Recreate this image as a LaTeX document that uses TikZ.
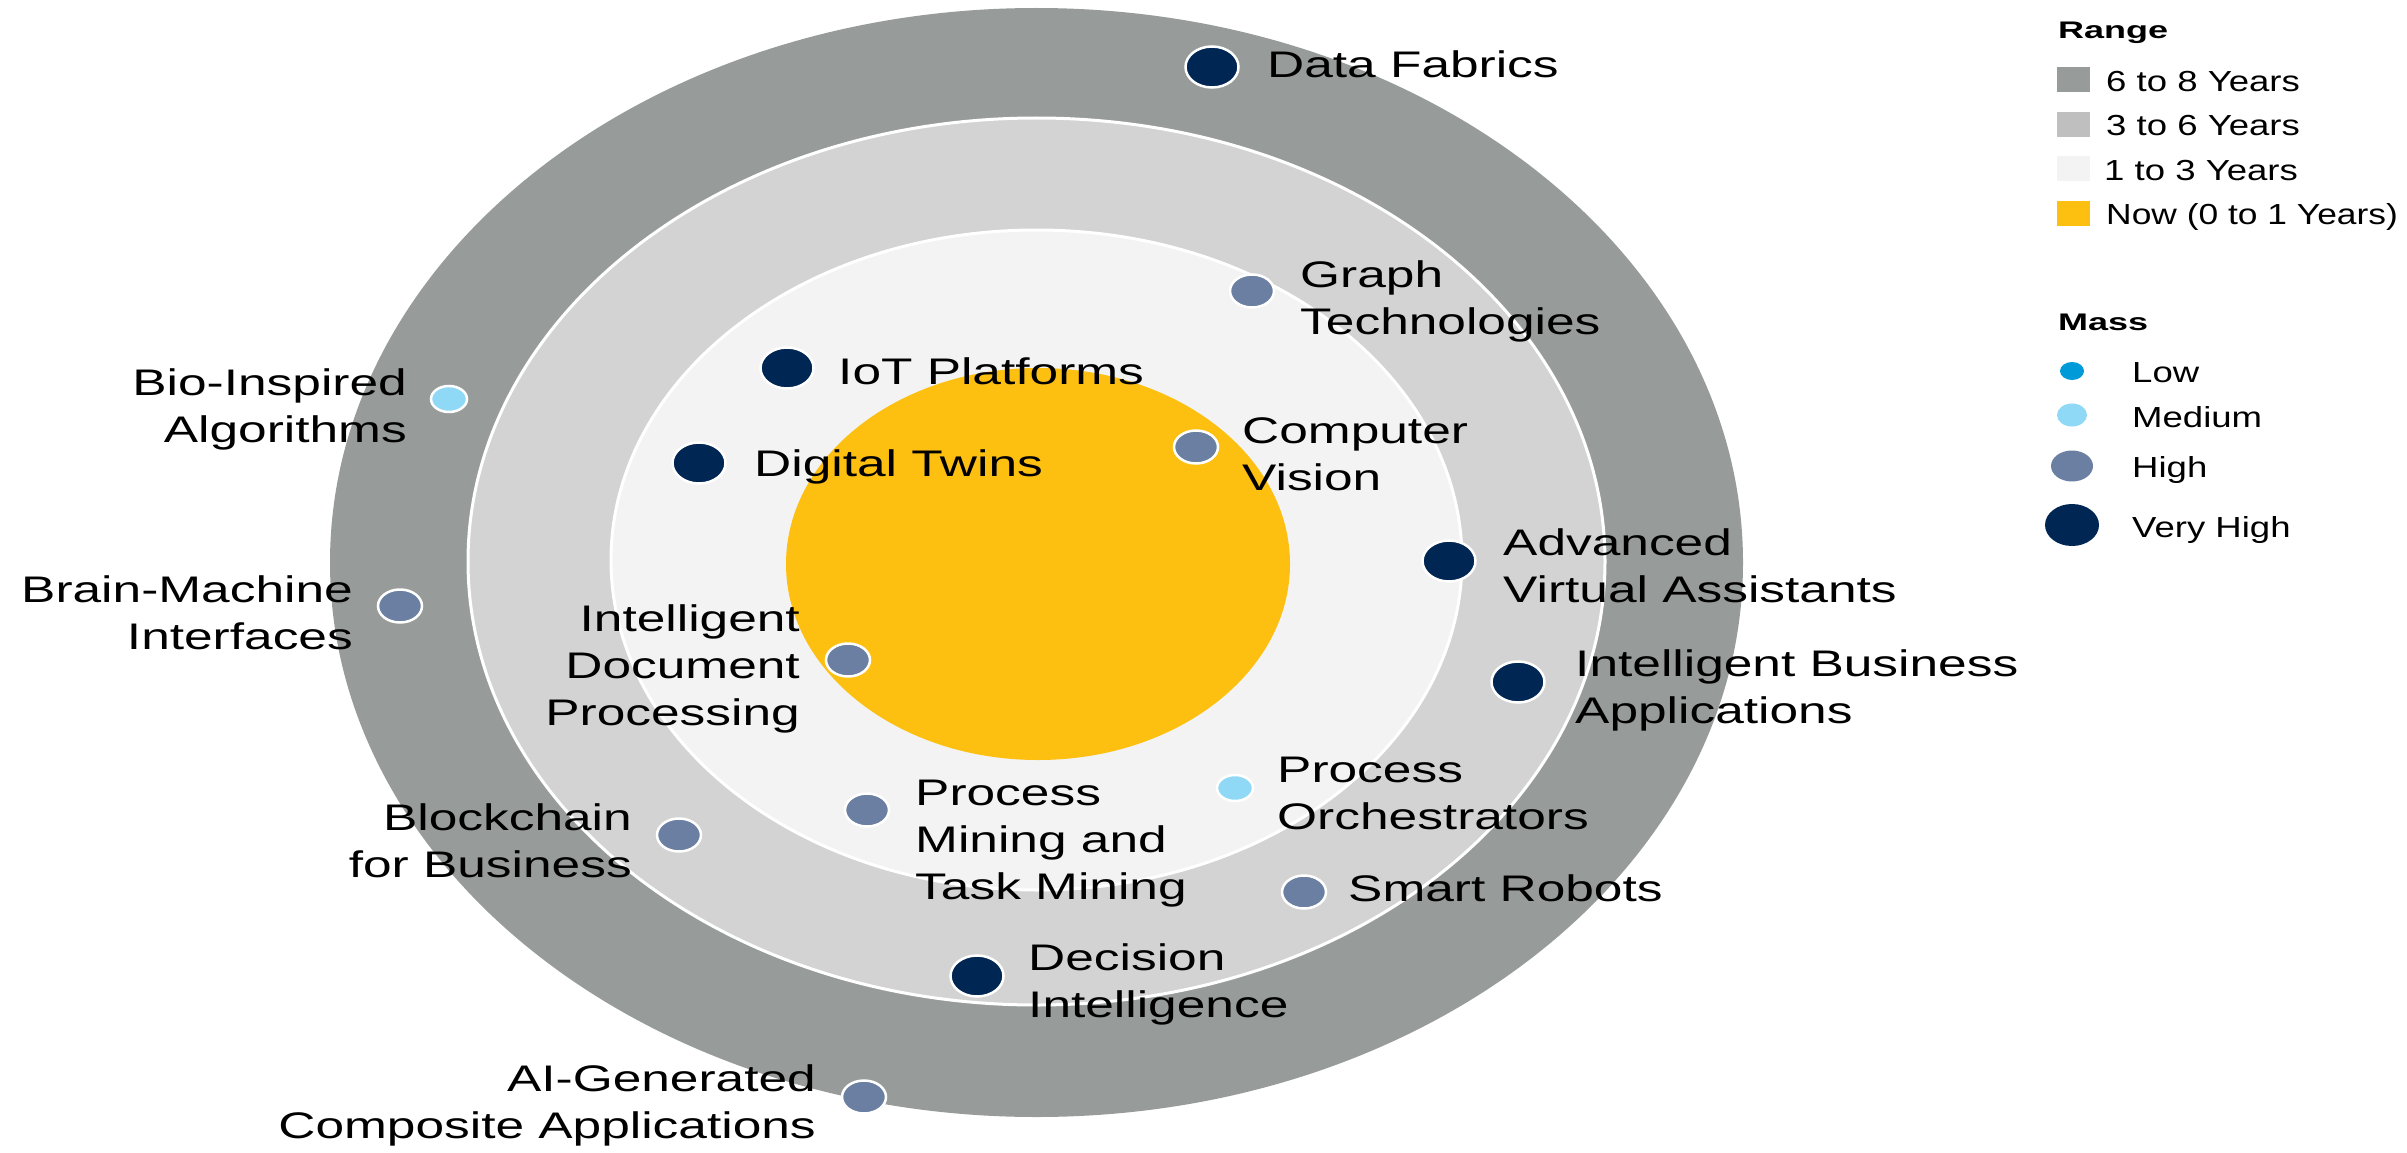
\documentclass[tikz,border=0pt]{standalone}
\usepackage{fontspec}
\setmainfont{Liberation Sans}
\newfontfamily\labfont{Liberation Sans}[FakeStretch=1.39]
\newfontfamily\legfont{Liberation Sans}[FakeStretch=1.26]
\newfontfamily\legfontn{Liberation Sans}[FakeStretch=1.22]
\newfontfamily\legtitlefont{Liberation Sans}[FakeStretch=1.5]
\usetikzlibrary{shapes.geometric}
\definecolor{ringA}{HTML}{979C9B}
\definecolor{ringB}{HTML}{D3D3D3}
\definecolor{ringC}{HTML}{F3F3F3}
\definecolor{ringD}{HTML}{FDBF10}
\definecolor{legB}{HTML}{BFBFBF}
\definecolor{cVH}{HTML}{002654}
\definecolor{cHi}{HTML}{6A7FA2}
\definecolor{cMed}{HTML}{8FD9F7}
\definecolor{cLow}{HTML}{009AD9}
\tikzset{
  massdot/.style={ellipse, inner sep=0pt, draw=white, line width=2.5pt},
  vh/.style={massdot, fill=cVH, minimum width=53pt, minimum height=41pt},
  hi/.style={massdot, fill=cHi, minimum width=44pt, minimum height=33pt},
  med/.style={massdot, fill=cMed, minimum width=36pt, minimum height=26pt},
  lab/.style={font=\labfont\fontsize{37}{47}\selectfont, inner sep=0pt, text=black},
  labL/.style={lab, align=left, anchor=base west},
  labR/.style={lab, align=right, anchor=base east},
  legtitle/.style={font=\legtitlefont\bfseries\fontsize{24}{28}\selectfont, inner sep=0pt, anchor=base west},
  legtext/.style={font=\legfont\fontsize{29}{34}\selectfont, inner sep=0pt, anchor=base west},
  legsq/.style={rectangle, inner sep=0pt, minimum width=33pt, minimum height=25pt},
  legdot/.style={ellipse, inner sep=0pt}
}
\begin{document}
\begin{tikzpicture}[x=1pt, y=-1pt]
\useasboundingbox (0,0) rectangle (2407,1153);
% rings
\fill[ringA] (1036.5,562.5) ellipse [x radius=706.5pt, y radius=554.5pt];
\filldraw[fill=ringB, draw=white, line width=3pt] (1036.5,561.5) ellipse [x radius=568.5pt, y radius=443.5pt];
\filldraw[fill=ringC, draw=white, line width=3pt] (1036.5,560) ellipse [x radius=425.5pt, y radius=330pt];
\fill[ringD] (1038,564) ellipse [x radius=252pt, y radius=196pt];
% dots
\node[vh]  (dfab)  at (1212,67)  {};
\node[hi]  (dgraph) at (1252,291) {};
\node[vh]  (diot)  at (787,368)  {};
\node[med] (dbio)  at (449,399)  {};
\node[hi]  (dcv)   at (1196,447) {};
\node[vh]  (ddt)   at (699,463)  {};
\node[vh]  (dava)  at (1449,561) {};
\node[hi]  (dbmi)  at (400,606)  {};
\node[hi]  (didp)  at (848,660)  {};
\node[vh]  (diba)  at (1518,682) {};
\node[med] (dpo)   at (1235,788) {};
\node[hi]  (dpm)   at (867,810)  {};
\node[hi]  (dbc)   at (679,835)  {};
\node[hi]  (dsr)   at (1304,892) {};
\node[vh]  (ddi)   at (977,976)  {};
\node[hi]  (dai)   at (864,1097) {};
% labels (base anchor = baseline of the last line)
\node[labL] (tfab)  at (1267,78)   {Data Fabrics};
\node[labL] (tgraph) at (1300,334) {Graph\\Technologies};
\node[labL] (tiot)  at (838,384)   {IoT Platforms};
\node[labR] (tbio)  at (407,442)   {Bio-Inspired\\Algorithms};
\node[labL] (tcv)   at (1242,490)  {Computer\\Vision};
\node[labL] (tdt)   at (754,476)   {Digital Twins};
\node[labL] (tava)  at (1503,602)  {Advanced\\Virtual Assistants};
\node[labR] (tbmi)  at (353,649)   {Brain-Machine\\Interfaces};
\node[labR] (tidp)  at (800,725)   {Intelligent\\Document\\Processing};
\node[labL] (tiba)  at (1575,723)  {Intelligent Business\\Applications};
\node[labL] (tpo)   at (1277,829)  {Process\\Orchestrators};
\node[labL] (tpm)   at (915,899)   {Process\\Mining and\\Task Mining};
\node[labR] (tbc)   at (632,877)   {Blockchain\\for Business};
\node[labL] (tsr)   at (1348,901)  {Smart Robots};
\node[labL] (tdi)   at (1028,1017) {Decision\\Intelligence};
\node[labR] (tai)   at (816,1138)  {AI-Generated\\Composite Applications};
% legend: range
\node[legtitle] (lrange) at (2058,39) {Range};
\node[legsq, fill=ringA] (sq1) at (2073.5,79.5)  {};
\node[legsq, fill=legB]  (sq2) at (2073.5,124.5) {};
\node[legsq, fill=ringC] (sq3) at (2073.5,168.5) {};
\node[legsq, fill=ringD] (sq4) at (2073.5,213.5) {};
\node[legtext] (lt1) at (2106,92)  {6 to 8 Years};
\node[legtext] (lt2) at (2106,136) {3 to 6 Years};
\node[legtext] (lt3) at (2104,180) {1 to 3 Years};
\node[legtext, font=\legfontn\fontsize{29}{34}\selectfont] (lt4) at (2106,224) {Now (0 to 1 Years)};
% legend: mass
\node[legtitle] (lmass) at (2058,330) {Mass};
\node[legdot, fill=cLow, minimum width=24pt, minimum height=18pt] (ml) at (2072,371) {};
\node[legdot, fill=cMed, minimum width=30pt, minimum height=23pt] (mm) at (2072,415) {};
\node[legdot, fill=cHi,  minimum width=42pt, minimum height=31pt] (mh) at (2072,466) {};
\node[legdot, fill=cVH,  minimum width=54pt, minimum height=42pt] (mv) at (2072,525) {};
\node[legtext] (mlt) at (2132,382) {Low};
\node[legtext] (mmt) at (2132,427) {Medium};
\node[legtext] (mht) at (2132,477) {High};
\node[legtext] (mvt) at (2132,537) {Very High};
\end{tikzpicture}
\end{document}
